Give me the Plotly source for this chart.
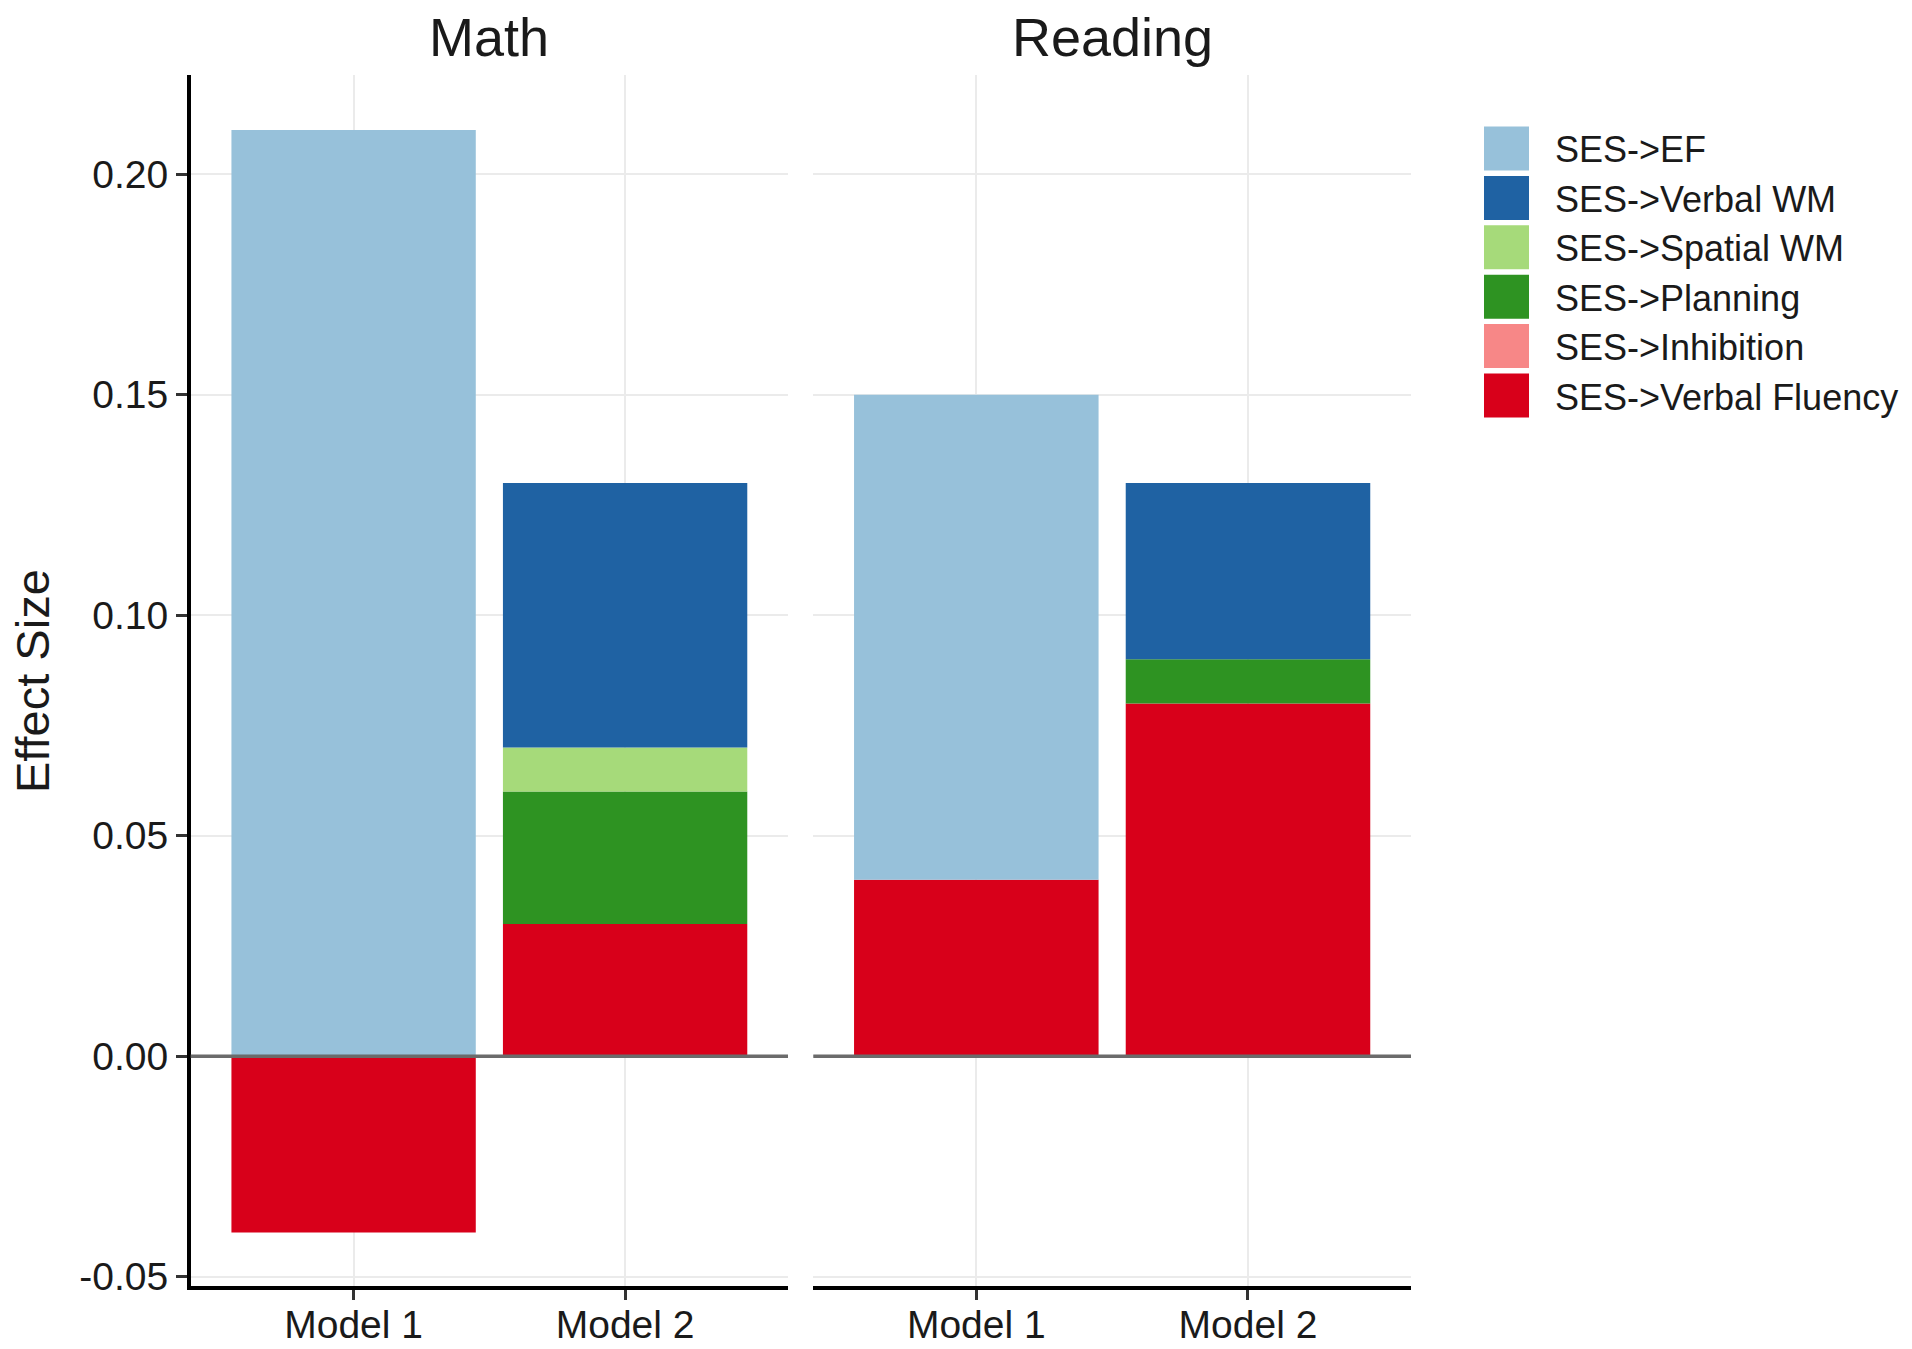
import plotly.graph_objects as go

# ---------------- data ----------------
categories = ["Model 1", "Model 2"]
panels = ["Math", "Reading"]
series = ["SES->EF", "SES->Verbal WM", "SES->Spatial WM",
          "SES->Planning", "SES->Inhibition", "SES->Verbal Fluency"]
colors = ["#97C1DA", "#1F62A3", "#A6DA7A", "#2E9322", "#F78787", "#D8001A"]

math_ef = [0.21, 0.0]
math_verbal_wm = [0.0, 0.06]
math_spatial_wm = [0.0, 0.01]
math_planning = [0.0, 0.03]
math_inhibition = [0.0, 0.0]
math_verbal_fluency = [-0.04, 0.03]

reading_ef = [0.11, 0.0]
reading_verbal_wm = [0.0, 0.04]
reading_spatial_wm = [0.0, 0.0]
reading_planning = [0.0, 0.01]
reading_inhibition = [0.0, 0.0]
reading_verbal_fluency = [0.04, 0.08]

y_tickvals = [-0.05, 0.0, 0.05, 0.10, 0.15, 0.20]
y_ticktext = ["-0.05", "0.00", "0.05", "0.10", "0.15", "0.20"]
y_title = "Effect Size"

math_values = [math_ef, math_verbal_wm, math_spatial_wm, math_planning,
               math_inhibition, math_verbal_fluency]
reading_values = [reading_ef, reading_verbal_wm, reading_spatial_wm,
                  reading_planning, reading_inhibition, reading_verbal_fluency]

# ---------------- layout geometry (pixels) ----------------
W, H = 1912, 1349
FONT = "Liberation Sans, Arial, Helvetica, sans-serif"
TXT = "#1a1a1a"

def px_x(p):
    return p / W

def px_y(p):
    return (H - p) / H

p1 = (190.7, 788.0)
p2 = (813.3, 1411.0)
top, bottom = 75.0, 1285.7

fig = go.Figure()

for vals, xa, ya in [(math_values, "x", "y"), (reading_values, "x2", "y2")]:
    # bottom-to-top stacking order is the reverse of the legend order
    for name, col, v in reversed(list(zip(series, colors, vals))):
        fig.add_trace(go.Bar(
            x=categories, y=v, name=name,
            marker=dict(color=col, line=dict(width=0)),
            showlegend=False, xaxis=xa, yaxis=ya,
            hovertemplate=name + ": %{y}<extra></extra>",
        ))

xcommon = dict(
    type="category", range=[-0.6, 1.6], automargin=False,
    showline=True, linecolor="black", linewidth=4,
    ticks="outside", ticklen=10, tickwidth=3, tickcolor="#333333",
    ticklabelstandoff=-9,
    tickfont=dict(family=FONT, size=39, color=TXT),
    showgrid=True, gridcolor="#EBEBEB", gridwidth=2,
    zeroline=False, fixedrange=True,
)
ycommon = dict(
    range=[-0.05205, 0.2225], domain=[px_y(bottom), px_y(top)],
    automargin=False,
    tickmode="array", tickvals=y_tickvals, ticktext=y_ticktext,
    showgrid=True, gridcolor="#EBEBEB", gridwidth=2,
    zeroline=False, fixedrange=True,
    tickfont=dict(family=FONT, size=39, color=TXT),
)

fig.update_layout(
    width=W, height=H,
    margin=dict(l=0, r=0, t=0, b=0, autoexpand=False),
    paper_bgcolor="white", plot_bgcolor="white",
    barmode="relative", bargap=0.1,
    showlegend=False,
    font=dict(family=FONT, color=TXT),
    xaxis=dict(xcommon, domain=[px_x(p1[0]), px_x(p1[1])], anchor="y"),
    xaxis2=dict(xcommon, domain=[px_x(p2[0]), px_x(p2[1])], anchor="y2"),
    yaxis=dict(ycommon, anchor="x", showline=True, linecolor="black",
               linewidth=3.5, ticks="outside", ticklen=11, tickwidth=3,
               tickcolor="#333333"),
    yaxis2=dict(ycommon, anchor="x2", showline=False, ticks="",
                showticklabels=False, matches="y"),
)

shapes = []
# zero reference lines on top of bars
for xr, yr in [("x domain", "y"), ("x2 domain", "y2")]:
    shapes.append(dict(type="line", xref=xr, yref=yr, x0=0, x1=1, y0=0, y1=0,
                       line=dict(color="#6b6b6b", width=3.5), layer="above"))

annotations = []
# facet strip titles
for name, (a, b) in zip(panels, [p1, p2]):
    annotations.append(dict(text=name, xref="paper", yref="paper",
                            x=px_x((a + b) / 2), y=px_y(36.6),
                            xanchor="center", yanchor="middle", showarrow=False,
                            font=dict(family=FONT, size=54, color=TXT)))
# y axis title
annotations.append(dict(text=y_title, xref="paper", yref="paper",
                        x=px_x(32), y=px_y(681), textangle=-90,
                        xanchor="center", yanchor="middle", showarrow=False,
                        font=dict(family=FONT, size=47, color=TXT)))

# legend (keys + labels)
key_x0, key_x1 = 1484, 1529
row0, row_step, key_h = 148.5, 49.4, 44
for i, (name, col) in enumerate(zip(series, colors)):
    cy = row0 + i * row_step
    shapes.append(dict(type="rect", xref="paper", yref="paper",
                       x0=px_x(key_x0), x1=px_x(key_x1),
                       y0=px_y(cy + key_h / 2), y1=px_y(cy - key_h / 2),
                       fillcolor=col, line=dict(width=0), layer="above"))
    annotations.append(dict(text=name, xref="paper", yref="paper",
                            x=px_x(1553), y=px_y(cy + 1.5),
                            xanchor="left", yanchor="middle", showarrow=False,
                            font=dict(family=FONT, size=36, color=TXT)))

fig.update_layout(shapes=shapes, annotations=annotations)

fig.write_html("out.html", config={"displayModeBar": False},
               post_script="document.body.style.margin='0';")
